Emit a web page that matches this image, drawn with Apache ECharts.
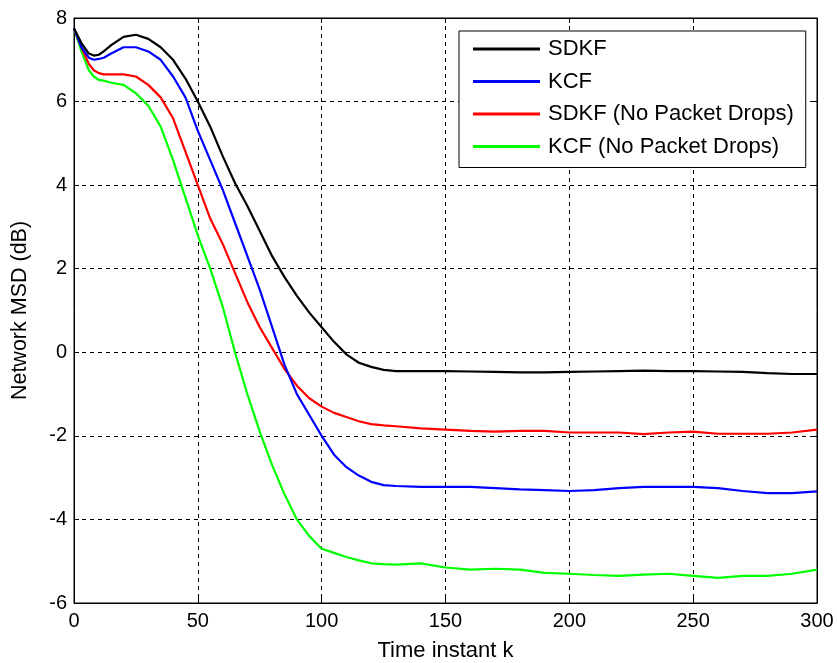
<!DOCTYPE html>
<html><head><meta charset="utf-8">
<script src="https://cdn.jsdelivr.net/npm/echarts@6/dist/echarts.min.js"></script>
<style>html,body{margin:0;padding:0;background:#fff}#c{width:837px;height:663px}</style>
</head><body><div id="c"></div>
<script>
const kValues = [0,3,6,8,10,12,15,20,25,30,35,40,45,50,55,60,65,70,75,80,85,90,95,100,105,110,115,120,125,130,140,150,160,170,180,190,200,210,220,230,240,250,260,270,280,290,300];
const sdkf = [7.75,7.4,7.15,7.1,7.12,7.2,7.35,7.55,7.6,7.5,7.3,7.0,6.55,6.0,5.4,4.7,4.05,3.5,2.9,2.3,1.8,1.35,0.95,0.6,0.25,-0.05,-0.25,-0.35,-0.42,-0.45,-0.45,-0.45,-0.46,-0.47,-0.48,-0.48,-0.47,-0.46,-0.45,-0.44,-0.45,-0.45,-0.46,-0.47,-0.5,-0.52,-0.52];
const kcf = [7.75,7.3,7.05,7.0,7.02,7.05,7.15,7.3,7.3,7.2,7.0,6.6,6.1,5.3,4.6,3.9,3.1,2.3,1.5,0.6,-0.3,-1.0,-1.5,-2.0,-2.45,-2.75,-2.95,-3.1,-3.18,-3.2,-3.22,-3.22,-3.22,-3.25,-3.28,-3.3,-3.32,-3.3,-3.25,-3.22,-3.22,-3.22,-3.25,-3.32,-3.37,-3.37,-3.33];
const sdkfNoDrop = [7.75,7.3,6.9,6.75,6.68,6.65,6.65,6.65,6.6,6.4,6.1,5.6,4.8,4.0,3.2,2.6,1.9,1.2,0.6,0.1,-0.4,-0.8,-1.1,-1.3,-1.45,-1.55,-1.65,-1.72,-1.75,-1.77,-1.82,-1.85,-1.88,-1.9,-1.88,-1.88,-1.92,-1.92,-1.92,-1.96,-1.92,-1.9,-1.95,-1.95,-1.95,-1.92,-1.85];
const kcfNoDrop = [7.75,7.2,6.75,6.6,6.52,6.5,6.45,6.4,6.2,5.9,5.4,4.6,3.7,2.8,2.0,1.1,0.0,-1.0,-1.9,-2.7,-3.4,-4.0,-4.4,-4.7,-4.8,-4.9,-4.98,-5.05,-5.07,-5.08,-5.05,-5.15,-5.2,-5.18,-5.2,-5.28,-5.3,-5.33,-5.35,-5.32,-5.3,-5.35,-5.4,-5.35,-5.35,-5.3,-5.2];
const seriesNames = ['SDKF','KCF','SDKF (No Packet Drops)','KCF (No Packet Drops)'];
const seriesData = [sdkf,kcf,sdkfNoDrop,kcfNoDrop];
const colors = ['#000000','#0000ff','#ff0000','#00ff00'];
const xTicks = [0,50,100,150,200,250,300];
const yTicks = [-6,-4,-2,0,2,4,6,8];

const font = 'Liberation Sans, Arial, sans-serif';
const chart = echarts.init(document.getElementById('c'));
const gridLine = {show:true,lineStyle:{color:'#000',type:[4,4],width:1}};
chart.setOption({
  animation:false,
  backgroundColor:'#fff',
  grid:{left:74,right:20,top:18,bottom:60,containLabel:false,outerBoundsMode:'none',show:true,borderColor:'#000',borderWidth:1,backgroundColor:'#fff'},
  legend:{
    orient:'vertical',left:459,top:31,
    padding:[7,12,10,14],itemGap:10.5,itemWidth:67,itemHeight:3,
    borderColor:'#000',borderWidth:1,backgroundColor:'#fff',
    icon:'rect',
    textStyle:{fontFamily:font,fontSize:22,lineHeight:22,color:'#000',padding:[0,0,0,3]},
    data:seriesNames
  },
  xAxis:[{
    type:'value',min:0,max:300,interval:50,
    name:'Time instant k',nameLocation:'middle',nameGap:37,
    nameTextStyle:{fontFamily:font,fontSize:22,color:'#000'},
    axisLine:{show:true,onZero:false,lineStyle:{color:'#000'}},
    axisTick:{show:true,inside:true,length:5,lineStyle:{color:'#000'}},
    axisLabel:{fontFamily:font,fontSize:20,color:'#000',margin:8,
      formatter:v=>xTicks.includes(v)?String(v):''},
    splitLine:gridLine
  },{
    type:'value',position:'top',min:0,max:300,interval:50,
    axisLine:{show:true,onZero:false,lineStyle:{color:'#000'}},
    axisTick:{show:true,inside:true,length:5,lineStyle:{color:'#000'}},
    axisLabel:{show:false},splitLine:{show:false}
  }],
  yAxis:[{
    type:'value',min:-6,max:8,interval:2,
    name:'Network MSD (dB)',nameLocation:'middle',nameGap:43,
    nameTextStyle:{fontFamily:font,fontSize:21.5,color:'#000'},
    axisLine:{show:true,onZero:false,lineStyle:{color:'#000'}},
    axisTick:{show:true,inside:true,length:5,lineStyle:{color:'#000'}},
    axisLabel:{fontFamily:font,fontSize:20,color:'#000',margin:7,
      formatter:v=>yTicks.includes(v)?String(v):''},
    splitLine:gridLine
  },{
    type:'value',position:'right',min:-6,max:8,interval:2,
    axisLine:{show:true,onZero:false,lineStyle:{color:'#000'}},
    axisTick:{show:true,inside:true,length:5,lineStyle:{color:'#000'}},
    axisLabel:{show:false},splitLine:{show:false}
  }],
  series:seriesNames.map((n,i)=>({
    name:n,type:'line',showSymbol:false,symbol:'none',
    data:kValues.map((k,j)=>[k,seriesData[i][j]]),
    lineStyle:{color:colors[i],width:2.2},itemStyle:{color:colors[i]},
    z:10-i
  }))
});
</script></body></html>
